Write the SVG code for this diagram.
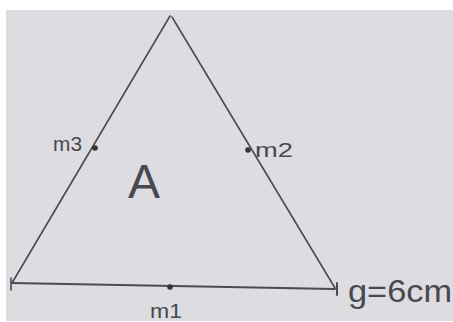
<svg xmlns="http://www.w3.org/2000/svg" width="453" height="322" viewBox="0 0 453 322">
<style>
.ln{stroke:#4a4a50;stroke-width:1.6;fill:none;stroke-linecap:round}
.dot{fill:#333338}
.lbl{font-family:"Liberation Sans",Arial,sans-serif;fill:#48484e}
</style>
<rect x="0" y="0" width="453" height="322" fill="#ffffff"/>
<rect x="6" y="10" width="447" height="311" fill="#dcdce1"/>
<g id="connectors">
<line class="ln" x1="12" y1="283" x2="170" y2="16"/>
<line class="ln" x1="172" y1="17" x2="335" y2="288"/>
<line class="ln" x1="12" y1="283" x2="335" y2="289" style="stroke-width:1.8"/>
<line class="ln" x1="11" y1="278" x2="11" y2="290"/>
<line class="ln" x1="337" y1="283" x2="337" y2="295" style="stroke-width:2"/>
</g>
<g id="m3"><circle class="dot" cx="95" cy="148" r="2.8"/><text class="lbl" x="53" y="151" font-size="21" textLength="29" lengthAdjust="spacingAndGlyphs">m3</text></g>
<g id="m2"><circle class="dot" cx="248" cy="150" r="2.8"/><text class="lbl" x="255" y="157" font-size="21" textLength="38" lengthAdjust="spacingAndGlyphs">m2</text></g>
<g id="m1"><circle class="dot" cx="170" cy="287" r="2.8"/><text class="lbl" x="150" y="318" font-size="21" textLength="32" lengthAdjust="spacingAndGlyphs">m1</text></g>
<g id="A"><text class="lbl" x="128" y="198" font-size="48">A</text></g>
<g id="g"><text class="lbl" x="348" y="302" font-size="32" textLength="104" lengthAdjust="spacingAndGlyphs">g=6cm</text></g>
</svg>
